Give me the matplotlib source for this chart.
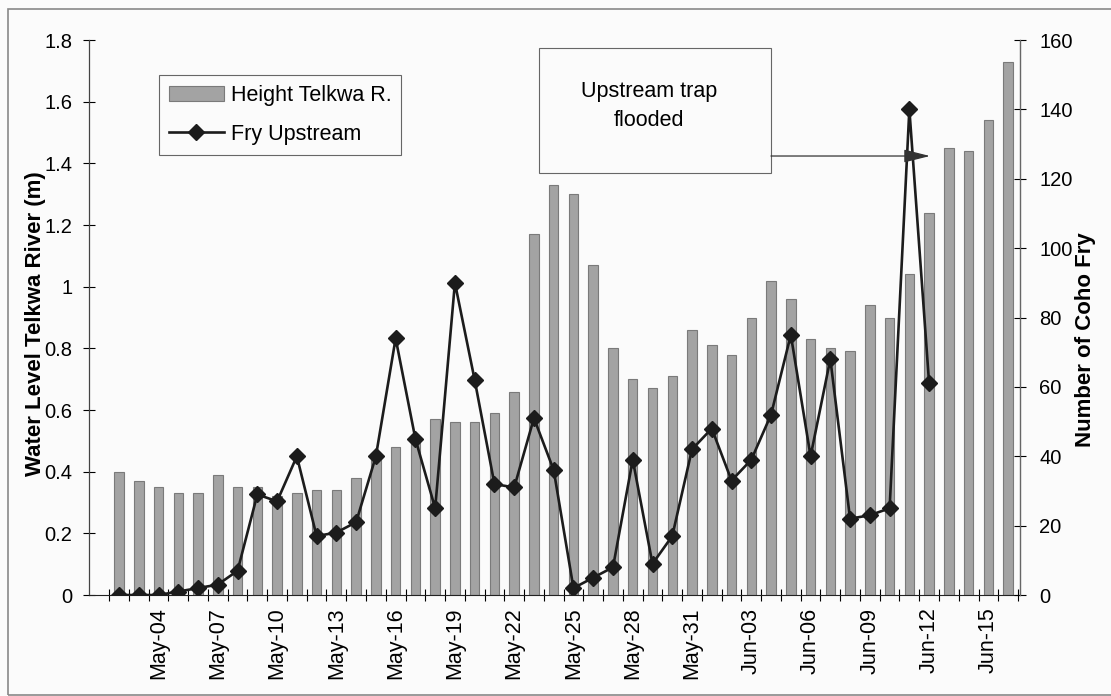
import numpy as np
import pandas as pd
import matplotlib
matplotlib.use('Agg')
import matplotlib.pyplot as plt
from matplotlib.patches import Rectangle, Patch
from matplotlib.lines import Line2D
from matplotlib.ticker import FuncFormatter

plt.rcParams['font.family'] = ['Liberation Sans', 'DejaVu Sans']

# daily sampling, May 2 - Jun 16
dates = pd.date_range('2000-05-02', '2000-06-16', freq='D')
day_labels = [d.strftime('%b-%d') for d in dates]

# water level of the Telkwa River (m)
height_m = [0.40, 0.37, 0.35, 0.33, 0.33, 0.39, 0.35, 0.35, 0.32, 0.33,
            0.34, 0.34, 0.38, 0.45, 0.48, 0.51, 0.57, 0.56, 0.56, 0.59,
            0.66, 1.17, 1.33, 1.30, 1.07, 0.80, 0.70, 0.67, 0.71, 0.86,
            0.81, 0.78, 0.90, 1.02, 0.96, 0.83, 0.80, 0.79, 0.94, 0.90,
            1.04, 1.24, 1.45, 1.44, 1.54, 1.73]

# coho fry caught in the upstream trap (no counts after Jun-12)
fry_upstream = [0, 0, 0, 1, 2, 3, 7, 29, 27, 40,
                17, 18, 21, 40, 74, 45, 25, 90, 62, 32,
                31, 51, 36, 2, 5, 8, 39, 9, 17, 42,
                48, 33, 39, 52, 75, 40, 68, 22, 23, 25,
                140, 61]

x = np.arange(len(dates))
bar_face = '#a3a3a3'
bar_edge = '#7a7a7a'
line_col = '#1c1c1c'

fig = plt.figure(figsize=(11.11, 6.96), dpi=100, facecolor='#fbfbfb')
ax = fig.add_axes([0.0801, 0.1451, 0.838, 0.7974])
ax.set_facecolor('none')

ax.bar(x, height_m, width=0.48, color=bar_face, edgecolor=bar_edge, linewidth=0.8)
ax.set_xlim(-1.52, 45.6)
ax.set_ylim(0, 1.8)
ax.set_yticks(np.arange(0, 1.81, 0.2))
ax.yaxis.set_major_formatter(FuncFormatter(lambda v, p: f'{v:g}'))

ax.set_xticks(x[2::3])
ax.set_xticklabels(day_labels[2::3], rotation=90)
ax.set_xticks(np.arange(-0.5, len(dates), 1), minor=True)
ax.tick_params(axis='x', which='major', length=0, pad=9, labelsize=15.5)
ax.tick_params(axis='x', which='minor', direction='inout', length=8, width=0.8)
ax.tick_params(axis='y', direction='inout', length=8, width=0.8, pad=8, labelsize=14.5)

ax2 = ax.twinx()
ax2.plot(x[:len(fry_upstream)], fry_upstream, color=line_col, lw=1.9,
         marker='D', ms=8, mfc=line_col, mec=line_col)
ax2.set_ylim(0, 160)
ax2.set_yticks(np.arange(0, 161, 20))
ax2.tick_params(axis='y', direction='inout', length=8, width=0.8, pad=10, labelsize=14.5)

for a in (ax, ax2):
    a.spines['top'].set_visible(False)
ax.spines['left'].set_color('#444444')
ax.spines['left'].set_linewidth(0.9)
ax2.spines['right'].set_color('#666666')
ax2.spines['right'].set_linewidth(0.9)
ax.spines['bottom'].set_color('#222222')
ax2.spines['left'].set_visible(False)
ax2.spines['bottom'].set_visible(False)

ax.set_ylabel('Water Level Telkwa River (m)', fontsize=16, fontweight='bold')
ax.yaxis.set_label_coords(-0.046, 0.489)
ax2.set_ylabel('Number of Coho Fry', fontsize=16, fontweight='bold', rotation=90)
ax2.yaxis.set_label_coords(1.059, 0.461)

handles = [Patch(facecolor=bar_face, edgecolor=bar_edge, linewidth=0.8),
           Line2D([], [], color=line_col, lw=1.9, marker='D', ms=8,
                  mfc=line_col, mec=line_col)]
leg = ax2.legend(handles, ['Height Telkwa R.', 'Fry Upstream'],
                 loc='upper left', bbox_to_anchor=(0.075, 0.937),
                 borderaxespad=0, fancybox=False, edgecolor='#666666',
                 fontsize=15.5, handlelength=2.6, handletextpad=0.3,
                 labelspacing=0.85, borderpad=0.45, framealpha=1)
leg.get_frame().set_facecolor('#fbfbfb')
leg.get_frame().set_linewidth(0.8)

# flood note with pointer to Jun-12
ax2.add_patch(Rectangle((0.4834, 0.7604), 0.2491, 0.2252, transform=ax2.transAxes,
                        fill=False, edgecolor='#666666', lw=0.8))
ax2.text(0.6015, 0.881, 'Upstream trap\nflooded', transform=ax2.transAxes,
         ha='center', va='center', fontsize=15.5, linespacing=1.55)
ax2.annotate('', xy=(0.9033, 0.791), xytext=(0.7325, 0.791),
             xycoords='axes fraction', textcoords='axes fraction',
             arrowprops=dict(arrowstyle='-|>,head_length=0.6,head_width=0.15',
                             color='#333333', lw=0.9, mutation_scale=27,
                             shrinkA=0, shrinkB=0))

fig.add_artist(Rectangle((0.0072, 0.0014), 0.995, 0.9856, transform=fig.transFigure,
                         fill=False, edgecolor='#888888', lw=1.2))

fig.savefig('out.png', dpi=100, facecolor=fig.get_facecolor())
